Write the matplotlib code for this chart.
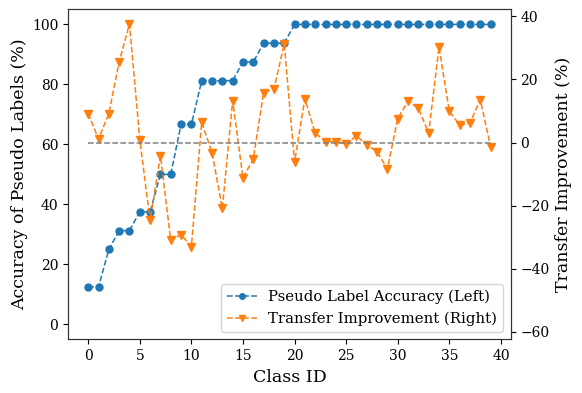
import matplotlib
matplotlib.use("Agg")
import matplotlib.pyplot as plt
import numpy as np

class_ids = list(range(40))
accuracy = [12.5, 12.5, 25, 31.25, 31.25, 37.5, 37.5, 50, 50, 66.67,
            66.67, 81.25, 81.25, 81.25, 81.25, 87.5, 87.5, 93.75, 93.75, 93.75,
            100, 100, 100, 100, 100, 100, 100, 100, 100, 100,
            100, 100, 100, 100, 100, 100, 100, 100, 100, 100]
improvement = [9.2, 1.1, 9.2, 25.6, 37.6, 0.9, -24.7, -4.2, -31.0, -29.2,
               -33.0, 6.4, -3.2, -20.9, 13.3, -11.2, -5.2, 15.8, 17.0, 31.2,
               -6.2, 13.9, 3.0, 0.3, 0.3, -0.4, 2.1, -0.7, -2.9, -8.4,
               7.6, 13.1, 10.9, 3.0, 30.3, 9.9, 5.6, 6.2, 13.6, -1.3]

plt.rcParams['font.family'] = ['DejaVu Serif']
fig = plt.figure(figsize=(5.82, 3.93), dpi=100)
ax = fig.add_axes([0.117, 0.1366, 0.7605, 0.8394])
ax2 = ax.twinx()

l1, = ax.plot(class_ids, accuracy, '--o', color='#1f77b4', lw=1.1, ms=5,
              label='Pseudo Label Accuracy (Left)')
l2, = ax2.plot(class_ids, improvement, '--v', color='#ff7f0e', lw=1.1, ms=6,
               label='Transfer Improvement (Right)')
ax2.hlines(0, class_ids[0], class_ids[-1], colors='gray', linestyles='--', lw=1.1)

ax.set_ylim(-5, 105)
ax2.set_ylim(-62.4, 42.2)
ax.set_xticks([0, 5, 10, 15, 20, 25, 30, 35, 40])
ax.set_yticks([0, 20, 40, 60, 80, 100])
ax2.set_yticks([-60, -40, -20, 0, 20, 40])
ax.tick_params(labelsize=10)
ax2.tick_params(labelsize=10)
ax.set_xlabel('Class ID', fontsize=12.5, labelpad=4)
ax.set_ylabel('Accuracy of Pseudo Labels (%)', fontsize=12.5, labelpad=3)
ax2.set_ylabel('Transfer Improvement (%)', fontsize=12.5)
for a in (ax, ax2):
    for s in a.spines.values():
        s.set_color('#333333')
ax2.legend([l1, l2], [l1.get_label(), l2.get_label()], loc='lower right',
           fontsize=10.7, markerscale=0.8)

fig.savefig('out.png', dpi=100)
